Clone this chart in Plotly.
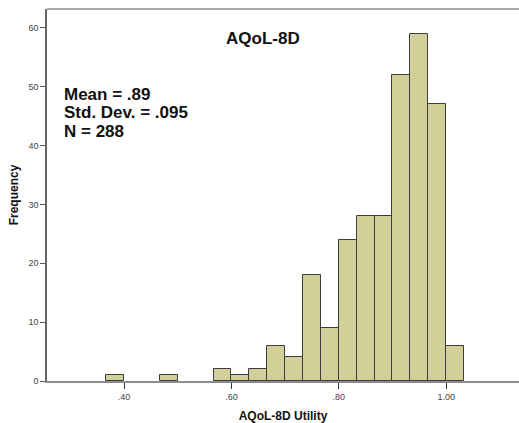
import plotly.graph_objects as go

# Histogram data (bin lower edges, frequencies)
bin_start = [0.3667, 0.4667, 0.5667, 0.6000, 0.6333, 0.6667, 0.7000, 0.7333,
             0.7667, 0.8000, 0.8333, 0.8667, 0.9000, 0.9333, 0.9667, 1.0000]
frequency = [1, 1, 2, 1, 2, 6, 4, 18, 9, 24, 28, 28, 52, 59, 47, 6]
bin_width = 0.03333

x_ticks = [0.40, 0.60, 0.80, 1.00]
x_tick_labels = [".40", ".60", ".80", "1.00"]
y_ticks = [0, 10, 20, 30, 40, 50, 60]

title_text = "AQoL-8D"
stats_lines = ["Mean = .89", "Std. Dev. = .095", "N = 288"]
x_title = "AQoL-8D Utility"
y_title = "Frequency"

fig = go.Figure()
fig.add_trace(go.Bar(
    x=bin_start, y=frequency, width=bin_width, offset=0,
    marker=dict(color="#D3CF98", line=dict(color="#3c3c3c", width=1)),
    hoverinfo="x+y",
))

font_fam = "Liberation Sans, Arial, sans-serif"

fig.update_layout(
    width=519, height=423,
    margin=dict(l=47, r=0, t=9, b=42),
    paper_bgcolor="white", plot_bgcolor="white",
    showlegend=False,
    bargap=0,
    font=dict(family=font_fam),
    xaxis=dict(
        range=[0.2565, 1.1357],
        tickvals=x_ticks, ticktext=x_tick_labels,
        ticks="outside", ticklen=6, tickwidth=1, tickcolor="#333",
        tickfont=dict(size=9, color="#444"),
        showline=True, linecolor="#8c8c8c", linewidth=1.5,
        showgrid=False, zeroline=False,
        title=dict(text="<b>" + x_title + "</b>", font=dict(size=12, color="#111"), standoff=12),
    ),
    yaxis=dict(
        range=[0, 63.2],
        tickvals=y_ticks,
        ticks="outside", ticklen=5, tickwidth=1, tickcolor="#555",
        tickfont=dict(size=9, color="#444"),
        showline=True, linecolor="#666", linewidth=1.5,
        showgrid=False, zeroline=False,
        title=dict(text="<b>" + y_title + "</b>", font=dict(size=12, color="#111"), standoff=7),
    ),
    shapes=[dict(type="line", xref="paper", yref="paper", x0=0, x1=1, y0=1, y1=1,
                 line=dict(color="#8c8c8c", width=1.5))],
)

fig.add_annotation(
    text="<b>" + title_text + "</b>", xref="paper", yref="paper",
    x=(263 - 47) / 472, y=(381 - 38) / 372, xanchor="center", yanchor="middle",
    showarrow=False, font=dict(size=17, color="#111"),
)

stat_y_px = [94, 112.5, 131]
for line, ypx in zip(stats_lines, stat_y_px):
    fig.add_annotation(
        text="<b>" + line + "</b>", xref="paper", yref="paper",
        x=(63 - 47) / 472, y=(381 - ypx) / 372, xanchor="left", yanchor="middle",
        showarrow=False, borderpad=0, font=dict(size=17, color="#111"),
    )

fig.write_html("out.html")
